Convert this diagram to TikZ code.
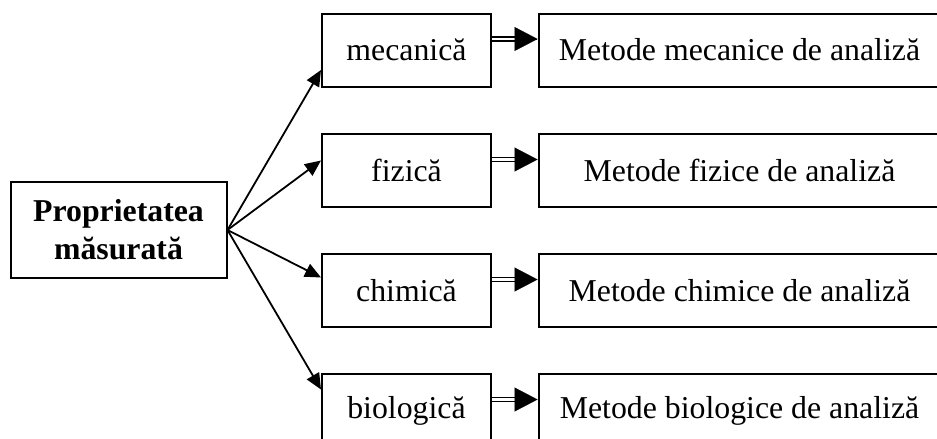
\documentclass[tikz,border=0pt]{standalone}
\usepackage{fontspec}
\setmainfont{Liberation Serif}
\usetikzlibrary{arrows.meta}
\begin{document}
\begin{tikzpicture}[x=1pt,y=-1pt,
  box/.style={draw, line width=2pt, inner sep=0pt, font=\fontsize{31.8}{38}\selectfont},
  mid/.style={box, minimum width=169pt, minimum height=73pt},
  meth/.style={box, minimum width=402pt, minimum height=73pt},
  link/.style={line width=1.8pt, -{Triangle[length=16pt,width=14pt]}},
  shaft/.style={double, line width=1.6pt, double distance=2.6pt},
  bigtip/.style={line width=0.1pt, -{Triangle[length=23pt,width=24pt]}}]
\useasboundingbox (0,0) rectangle (937,439);
% source box
\node[box, minimum width=216pt, minimum height=96pt, align=center,
      font=\fontsize{31.8}{38}\selectfont\bfseries] (src) at (118.5,230)
      {Proprietatea\\măsurată};
% property boxes and the matching groups of methods
\node[mid]  (p1) at (406.5,50)    {mecanică};
\node[mid]  (p2) at (406.5,170.5) {fizică};
\node[mid]  (p3) at (406.5,290.5) {chimică};
\node[mid]  (p4) at (406.5,410.5) {biologică};
\node[meth] (m1) at (739.5,50)    {Metode mecanice de analiză};
\node[meth] (m2) at (739.5,170.5) {Metode fizice de analiză};
\node[meth] (m3) at (739.5,290.5) {Metode chimice de analiză};
\node[meth] (m4) at (739.5,410.5) {Metode biologice de analiză};
% fan of arrows from the source box
\draw[link] (src.east) -- ([yshift=-20pt]p1.west);
\draw[link] (src.east) -- ([yshift=10pt]p2.west);
\draw[link] (src.east) -- ([yshift=13pt]p3.west);
\draw[link] (src.east) -- ([yshift=21pt]p4.west);
% double arrows towards the methods
\foreach \i in {1,2,3,4}{
  \draw[shaft] ([yshift=11pt]p\i.east) -- ([yshift=11pt,xshift=-20pt]m\i.west);
  \draw[bigtip] ([yshift=11pt,xshift=-1pt]m\i.west) -- ([yshift=11pt]m\i.west);
}
\end{tikzpicture}
\end{document}
